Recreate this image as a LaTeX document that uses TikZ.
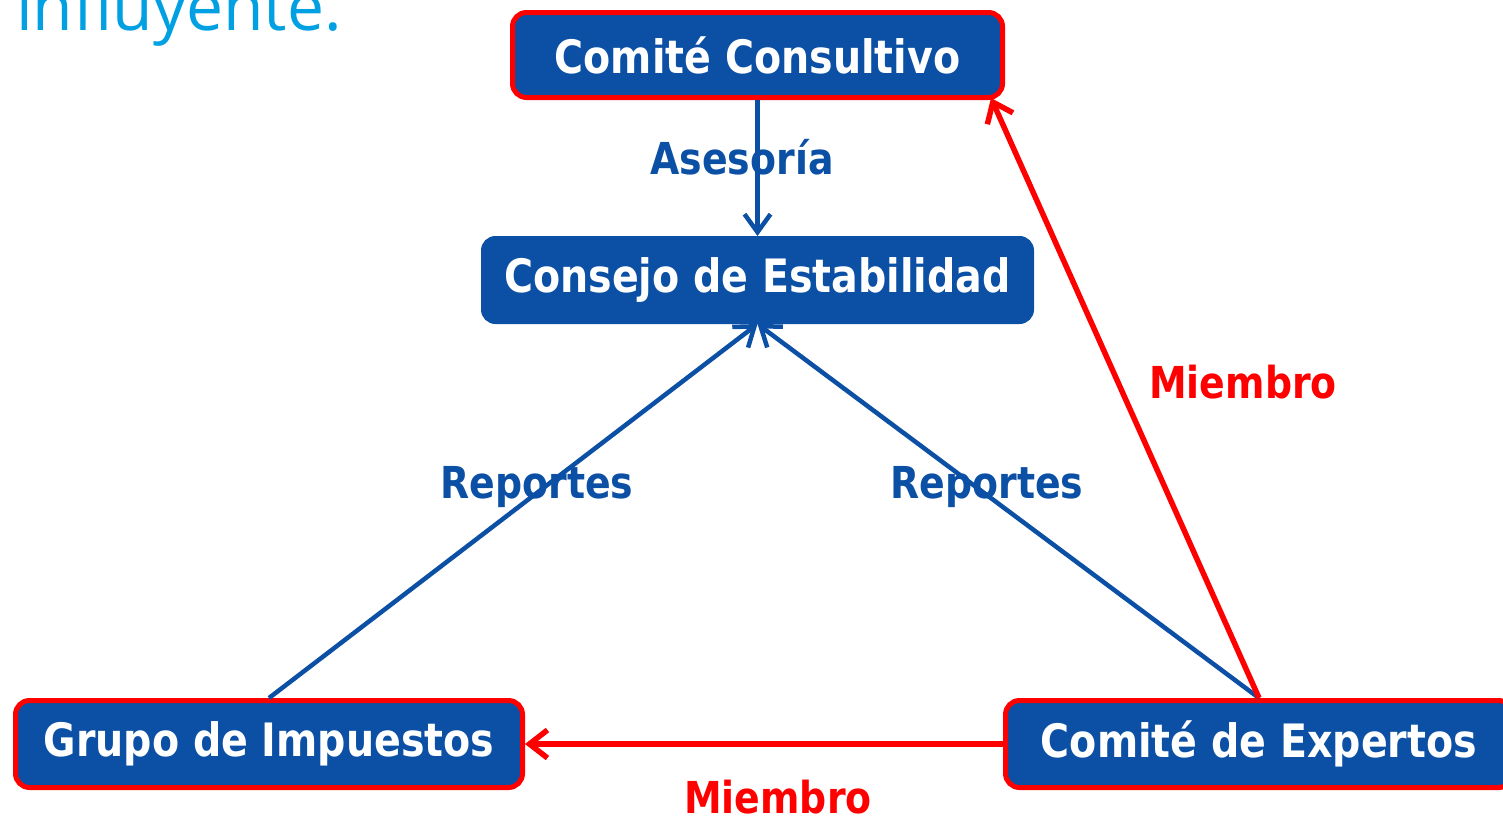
\documentclass[tikz,border=0pt]{standalone}
\usepackage{fontspec}
\setmainfont{DejaVu Sans}[FakeStretch=0.86]
\newfontfamily\thinfont{Open Sans}
\usetikzlibrary{arrows.meta}
\definecolor{boxblue}{RGB}{11,80,164}
\definecolor{linered}{RGB}{255,0,0}
\definecolor{skyblue}{RGB}{0,160,227}
\tikzset{
  box/.style={fill=boxblue, rounded corners=14pt, inner sep=0pt, text=white,
    font=\bfseries\fontsize{46}{54}\selectfont},
  redbox/.style={box, draw=linered, line width=5pt},
  plainbox/.style={box, draw=boxblue, line width=1pt},
  bluearrow/.style={draw=boxblue, line width=4.5pt, -{Straight Barb[length=18pt,width=26pt,line width=4.5pt]}},
  redarrow/.style={draw=linered, line width=5.5pt, -{Straight Barb[length=18pt,width=28pt,line width=5.5pt]}},
  bluelabel/.style={text=boxblue, font=\bfseries\fontsize{44}{54}\selectfont, inner sep=0pt},
  redlabel/.style={text=linered, font=\bfseries\fontsize{44}{54}\selectfont, inner sep=0pt}
}
\begin{document}
\begin{tikzpicture}[x=1pt,y=-1pt]
\useasboundingbox (0,0) rectangle (1503,822);
\clip (0,0) rectangle (1503,822);
\node[anchor=base west, text=skyblue, font=\thinfont\fontsize{66}{72}\selectfont, inner sep=0pt] (title) at (16,30) {influyente.};
\node[redbox, minimum width=490pt, minimum height=85pt] (cc) at (757.5,55) {Comité Consultivo};
\node[plainbox, minimum width=552pt, minimum height=87pt] (ce) at (757.5,280) {Consejo de Estabilidad};
\node[redbox, minimum width=507pt, minimum height=87pt] (gi) at (269,744) {Grupo de Impuestos};
\node[redbox, minimum width=507pt, minimum height=87pt] (ex) at (1259,744) {Comité de Expertos};
\draw[bluearrow] (cc.south) -- (ce.north);
\draw[bluearrow] (gi.north) -- (ce.south);
\draw[bluearrow] (ex.north) -- (ce.south);
\draw[redarrow] (ex.west) -- (gi.east);
\coordinate (ccend) at ([xshift=-14pt,yshift=2pt]cc.south east);
\draw[redarrow] (ex.north) -- (ccend);
\node[bluelabel] (l1) at (742,157) {Asesoría};
\node[bluelabel] (l2) at (537,487) {Reportes};
\node[bluelabel] (l3) at (987,487) {Reportes};
\node[redlabel] (l4) at (1243,382) {Miembro};
\node[redlabel] (l5) at (778,797) {Miembro};
\end{tikzpicture}
\end{document}
